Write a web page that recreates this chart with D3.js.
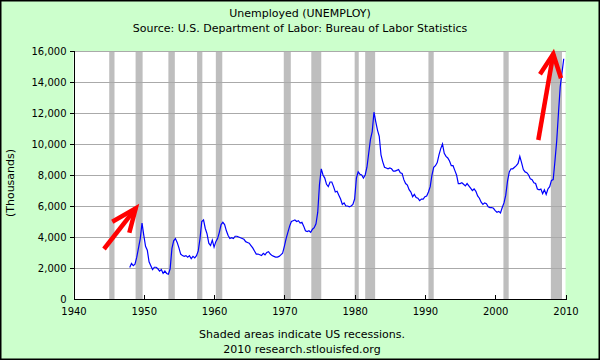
<!DOCTYPE html>
<html>
<head>
<meta charset="utf-8">
<script src="https://cdn.jsdelivr.net/npm/d3@7/dist/d3.min.js"></script>
<style>
html,body{margin:0;padding:0;background:#CCFFCC;}
svg{display:block;font-family:"DejaVu Sans",Verdana,sans-serif;}
</style>
</head>
<body>
<svg id="chart" width="600" height="360"></svg>
<script>
// ---- data ----
const title = "Unemployed (UNEMPLOY)";
const subtitle = "Source: U.S. Department of Labor: Bureau of Labor Statistics";
const yLabel = "(Thousands)";
const footer1 = "Shaded areas indicate US recessions.";
const footer2 = "2010 research.stlouisfed.org";
const startYear = 1948;
const quarterMonths = [1, 4, 7, 10];
// unemployed persons, thousands, sampled Jan/Apr/Jul/Oct of each year
const unemployed = [
  2034, 2300, 2150, 2250,   // 1948
  2700, 3300, 3900, 4900,   // 1949
  4100, 3400, 3150, 2400,   // 1950
  2150, 1900, 2050, 2050,   // 1951
  1950, 1800, 1900, 1650,   // 1952
  1800, 1650, 1600, 1950,   // 1953
  3250, 3750, 3900, 3650,   // 1954
  3300, 2900, 2800, 2750,   // 1955
  2800, 2700, 2800, 2600,   // 1956
  2750, 2650, 2800, 3100,   // 1957
  3900, 5000, 5100, 4550,   // 1958
  4200, 3600, 3450, 3800,   // 1959
  3350, 3700, 3900, 4300,   // 1960
  4800, 4950, 4800, 4400,   // 1961
  4100, 3900, 3950, 3900,   // 1962
  4050, 4050, 4000, 3950,   // 1963
  3900, 3850, 3700, 3650,   // 1964
  3600, 3450, 3300, 3100,   // 1965
  2900, 2900, 2850, 2800,   // 1966
  2950, 2850, 3000, 3050,   // 1967
  2900, 2800, 2750, 2700,   // 1968
  2700, 2750, 2850, 2950,   // 1969
  3400, 3900, 4300, 4700,   // 1970
  5000, 5050, 5100, 5000,   // 1971
  5050, 4900, 4950, 4700,   // 1972
  4400, 4350, 4400, 4300,   // 1973
  4500, 4600, 4850, 5600,   // 1974
  7400, 8400, 8000, 7800,   // 1975
  7400, 7250, 7550, 7550,   // 1976
  7250, 6900, 6950, 6700,   // 1977
  6450, 6100, 6200, 6000,   // 1978
  6000, 5950, 6000, 6100,   // 1979
  6450, 7800, 8200, 8050,   // 1980
  8000, 7800, 8000, 8500,   // 1981
  9400, 10300, 10800, 12050,// 1982
  11450, 10900, 10500, 9300,// 1983
  8850, 8500, 8450, 8400,   // 1984
  8450, 8400, 8250, 8250,   // 1985
  8300, 8350, 8150, 8100,   // 1986
  7700, 7450, 7350, 7050,   // 1987
  6900, 6600, 6750, 6550,   // 1988
  6500, 6350, 6450, 6450,   // 1989
  6600, 6650, 6900, 7250,   // 1990
  8000, 8500, 8600, 8800,   // 1991
  9300, 9700, 10000, 9400,  // 1992
  9200, 9100, 8900, 8600,   // 1993
  8600, 8300, 8000, 7450,   // 1994
  7450, 7500, 7400, 7300,   // 1995
  7450, 7300, 7150, 7000,   // 1996
  7100, 6950, 6650, 6500,   // 1997
  6250, 6100, 6200, 6150,   // 1998
  5950, 5900, 5900, 5850,   // 1999
  5700, 5600, 5650, 5550,   // 2000
  5900, 6200, 6700, 7600,   // 2001
  8200, 8400, 8400, 8500,   // 2002
  8600, 8750, 9200, 8800,   // 2003
  8350, 8200, 8150, 8000,   // 2004
  7750, 7700, 7500, 7450,   // 2005
  7100, 7050, 7100, 6800,   // 2006
  7050, 6750, 7100, 7250,   // 2007
  7650, 7700, 8900, 10200,  // 2008
  12000, 13700, 14600, 15500// 2009
];
// NBER recessions [first month, last month]
const recessions = [
  ["1945-02","1945-10"],["1948-11","1949-10"],["1953-07","1954-05"],
  ["1957-08","1958-04"],["1960-04","1961-02"],["1969-12","1970-11"],
  ["1973-11","1975-03"],["1980-01","1980-07"],["1981-07","1982-11"],
  ["1990-07","1991-03"],["2001-03","2001-11"],["2007-12","2009-06"]
];
const xTicks = [1940,1950,1960,1970,1980,1990,2000,2010];
const yTicks = [0,2000,4000,6000,8000,10000,12000,14000,16000];
// red annotation arrows in data units: tail, tip, barb1, barb2
const arrows = [
  {tail:[1944.34,3226], tip:[1948.85,5852], barbA:[1945.52,4987], barbB:[1947.94,4277]},
  {tail:[2006.13,10258], tip:[2008.26,15806], barbA:[2006.37,14497], barbB:[2009.36,14239]}
];

// ---- chart ----
const svg = d3.select("#chart");
const x = d3.scaleLinear().domain([1940, 2010]).range([73.5, 565.5]);
const y = d3.scaleLinear().domain([0, 16000]).range([299, 51]);
const monthToYear = s => { const [yy, mm] = s.split("-").map(Number); return yy + (mm - 1) / 12; };

svg.append("rect").attr("x",0).attr("y",0).attr("width",600).attr("height",360).attr("fill","#CCFFCC");

// plot background
svg.append("rect").attr("x",x(1940)).attr("y",y(16000))
  .attr("width",x(2010)-x(1940)).attr("height",y(0)-y(16000)).attr("fill","#fff");

// recessions
svg.append("g").selectAll("rect").data(recessions).join("rect")
  .attr("x", d => x(monthToYear(d[0])))
  .attr("width", d => x(monthToYear(d[1]) + 1/12) - x(monthToYear(d[0])))
  .attr("y", y(16000)).attr("height", y(0)-y(16000))
  .attr("fill", "#BEBEBE");

// grid
svg.append("g").selectAll("line").data(yTicks.filter(v => v > 0)).join("line")
  .attr("x1", x(1940)).attr("x2", x(2010))
  .attr("y1", d => Math.round(y(d)) + 0.5).attr("y2", d => Math.round(y(d)) + 0.5)
  .attr("stroke", "#AAAAAA").attr("stroke-width", 1).attr("shape-rendering","crispEdges");

// series
const pts = unemployed.map((v, i) => ({
  t: startYear + Math.floor(i / 4) + (quarterMonths[i % 4] - 1) / 12, v
}));
svg.append("path").datum(pts)
  .attr("d", d3.line().x(d => x(d.t)).y(d => y(d.v)))
  .attr("fill","none").attr("stroke","#0000FF").attr("stroke-width",1.2);

// axes
const yAxis = svg.append("g").attr("transform", `translate(${Math.round(x(1940))+0.5},0)`)
  .call(d3.axisLeft(y).tickValues(yTicks).tickSize(5).tickPadding(3).tickFormat(d3.format(",")));
const xAxis = svg.append("g").attr("transform", `translate(0,${Math.round(y(0))+0.5})`)
  .call(d3.axisBottom(x).tickValues(xTicks).tickSize(-5).tickPadding(10).tickFormat(d3.format("d")));
[yAxis, xAxis].forEach(g => {
  g.select(".domain").attr("stroke","#000").attr("shape-rendering","crispEdges");
  g.selectAll(".tick line").attr("stroke","#000").attr("shape-rendering","crispEdges");
  g.selectAll(".tick text").attr("fill","#000").style("font-family",'"DejaVu Sans",Verdana,sans-serif').style("font-size","10px");
});
yAxis.select(".domain").attr("d", `M0,${y(16000)}V${y(0)}`);
yAxis.selectAll(".tick").filter(d => d === 0).select("line").remove();
xAxis.select(".domain").attr("d", `M${x(1940)},0H${x(2010)}`);
xAxis.selectAll(".tick").filter(d => d === 1940).select("line").remove();
xAxis.selectAll(".tick text").attr("y", 8).attr("dy","0.71em");

// arrows
const ag = svg.append("g").attr("stroke","#FF0000").attr("fill","none")
  .attr("stroke-width",4.5).attr("stroke-linecap","butt").attr("stroke-linejoin","miter");
arrows.forEach(a => {
  const P = p => [x(p[0]), y(p[1])];
  ag.append("path").attr("d", d3.line()([P(a.tail), P(a.tip)]));
  ag.append("path").attr("d", d3.line()([P(a.barbA), P(a.tip), P(a.barbB)]));
});

// texts
const txt = (t, xx, yy, size) => svg.append("text").attr("x",xx).attr("y",yy)
  .attr("text-anchor","middle").attr("font-size",size).attr("fill","#000").text(t);
txt(title, 300, 17, "11px");
txt(subtitle, 300, 32, "11px");
txt(footer1, 302, 338, "11px");
txt(footer2, 302, 353, "11px");
svg.append("text").attr("transform","translate(14,183) rotate(-90)")
  .attr("text-anchor","middle").attr("font-size","11px").attr("fill","#000").text(yLabel);

// outer border
svg.append("rect").attr("x",0.75).attr("y",0.75).attr("width",598.5).attr("height",358.5)
  .attr("fill","none").attr("stroke","#000").attr("stroke-width",1.5);
</script>
</body>
</html>
